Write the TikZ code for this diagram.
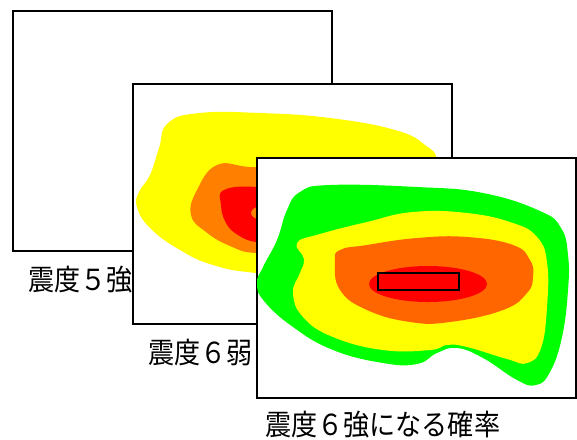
\documentclass[tikz,border=0pt]{standalone}
\usepackage{fontspec}
\newfontfamily\jpfont{Noto Sans CJK JP}
\definecolor{zyellow}{HTML}{FFFF00}
\definecolor{zorangeA}{HTML}{FF8000}
\definecolor{zorangeB}{HTML}{FF6600}
\definecolor{zred}{HTML}{FF0000}
\definecolor{zgreen}{HTML}{00FF00}
\tikzset{
  card/.style={draw=black, fill=white, line width=1.6pt},
  caption/.style={anchor=base west, inner sep=0pt, font=\jpfont\fontsize{29}{29}\selectfont},
  zone/.style={smooth cycle, tension=0.75},
}
\newcommand{\capt}[1]{\scalebox{0.9}[1]{#1}}
\begin{document}
\begin{tikzpicture}[x=1pt, y=-1pt]
\useasboundingbox (0,0) rectangle (577,439);

% first card
\node[card, minimum width=319pt, minimum height=240pt, anchor=north west, inner sep=0pt] (c1) at (12,10) {};
\node[caption] (t1) at (28,290) {\capt{震度５強}};

% second card with its zones
\node[card, minimum width=319pt, minimum height=240pt, anchor=north west, inner sep=0pt] (c2) at (132,83) {};
\fill[zyellow] plot[zone] coordinates {(168,123) (200,113) (260,113) (330,118) (395,130) (425,145) (437,162) (430,200) (400,250) (340,279) (256,273) (213,265) (180,250) (150,228) (137,207) (139,192) (150,175) (159,148)};
\fill[zorangeA] plot[zone] coordinates {(217,165) (250,167) (300,170) (330,182) (335,230) (300,250) (256,253) (230,246) (206,232) (191,215) (197,190)};
\fill[zred] plot[zone] coordinates {(224,190) (256,187) (285,195) (295,220) (275,240) (256,242) (238,235) (226,223) (221,205)};
\fill[zorangeA] (263,213) ellipse [x radius=12pt, y radius=7pt];
\node[caption] (t2) at (148,363) {\capt{震度６弱}};

% third card with its zones
\node[card, minimum width=319pt, minimum height=240pt, anchor=north west, inner sep=0pt] (c3) at (256,157) {};
\fill[zgreen] plot[zone] coordinates {(300,192) (330,185) (417,187) (483,193) (540,211) (561,228) (568,255) (568,290) (562,337) (550,372) (536,385) (517,380) (483,358) (457,348) (437,353) (417,364) (383,363) (333,350) (293,327) (264,301) (257,283) (263,267) (277,240) (287,210)};
\fill[zyellow] plot[zone] coordinates {(297,243) (320,234) (367,222) (413,212) (467,213) (513,223) (537,237) (547,262) (547,307) (541,348) (527,363) (507,359) (467,347) (447,345) (430,350) (383,350) (333,337) (303,317) (293,293) (300,273) (304,259)};
\fill[zorangeB] plot[zone] coordinates {(340,250) (367,245) (417,238) (467,237) (513,245) (530,260) (533,277) (527,293) (503,310) (450,322) (410,322) (367,310) (340,290) (335,262)};
\fill[zred] (428,284) ellipse [x radius=59pt, y radius=18pt];
\node[draw=black, line width=1.3pt, fill=zred, inner sep=0pt, minimum width=81pt, minimum height=17pt] (box) at (418.5,281.5) {};
\node[caption] (t3) at (265,435.5) {\capt{震度６強になる確率}};
\end{tikzpicture}
\end{document}
